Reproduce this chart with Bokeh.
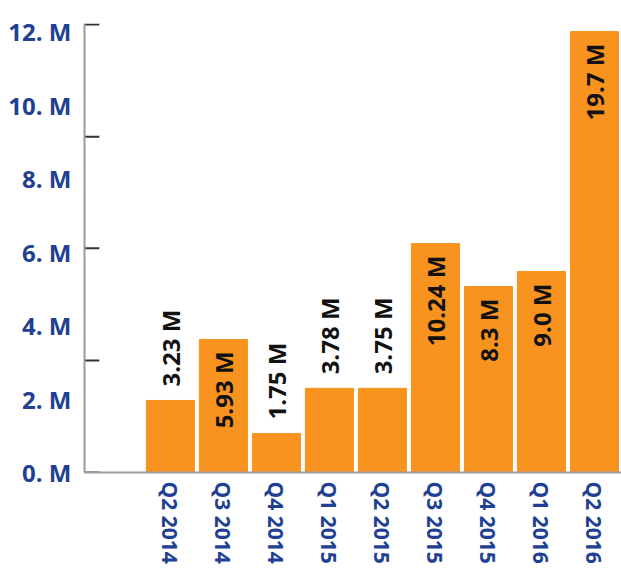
import math
from bokeh.plotting import figure
from bokeh.models import Range1d, FixedTicker, ColumnDataSource
from bokeh.core.properties import value
from bokeh.embed import file_html
from bokeh.resources import INLINE

# ---- data ----
quarters = ["Q2 2014", "Q3 2014", "Q4 2014", "Q1 2015", "Q2 2015",
            "Q3 2015", "Q4 2015", "Q1 2016", "Q2 2016"]
bar_heights = [1.96, 3.62, 1.06, 2.29, 2.29, 6.23, 5.06, 5.47, 12.0]
bar_labels = ["3.23 M", "5.93 M", "1.75 M", "3.78 M", "3.75 M",
              "10.24 M", "8.3 M", "9.0 M", "19.7 M"]
y_label_values = [0, 2, 4, 6, 8, 10, 12]
y_mark_values = [0, 3.05, 6.1, 9.14, 12.19]

ORANGE = "#F7931E"
BLUE = "#213F93"
FONT = value("Open Sans")

xs = list(range(len(quarters)))
x_start, x_end = -1.62, 8.51
y_end = 12.22

p = figure(width=621, height=570,
           x_range=Range1d(x_start, x_end), y_range=Range1d(0, y_end),
           output_backend="svg", toolbar_location=None,
           min_border_left=84, min_border_right=0,
           min_border_top=23, min_border_bottom=98)
p.outline_line_color = None
p.xgrid.grid_line_color = None
p.ygrid.grid_line_color = None
p.background_fill_color = "white"

p.vbar(x=xs, top=bar_heights, width=0.906, color=ORANGE)

# inside / outside label split
inside = [i for i, v in enumerate(bar_heights) if v > 3]
outside = [i for i, v in enumerate(bar_heights) if v <= 3]
src_in = ColumnDataSource(dict(x=[xs[i] for i in inside],
                               y=[bar_heights[i] for i in inside],
                               t=[bar_labels[i] for i in inside]))
src_out = ColumnDataSource(dict(x=[xs[i] for i in outside],
                                y=[bar_heights[i] for i in outside],
                                t=[bar_labels[i] for i in outside]))
common = dict(angle=math.pi / 2, text_baseline="middle", text_font=FONT,
              text_font_style="bold", text_font_size="24px", text_color="#111111")
p.text(x="x", y="y", text="t", source=src_out, text_align="left",
       y_offset=-14, **common)
p.text(x="x", y="y", text="t", source=src_in, text_align="right",
       y_offset=12, **common)

# tick marks on the y axis (inward)
p.segment(x0=[x_start] * len(y_mark_values), x1=[x_start + 0.28] * len(y_mark_values),
          y0=y_mark_values, y1=y_mark_values, line_color="#333333", line_width=2)

# y axis
ya = p.yaxis[0]
ya.ticker = FixedTicker(ticks=y_label_values)
ya.major_label_overrides = {v: f"{v}. M" for v in y_label_values}
ya.major_tick_line_color = None
ya.minor_tick_line_color = None
ya.major_tick_out = 0
ya.major_tick_in = 0
ya.major_label_standoff = 13
ya.axis_line_color = "#9A9A9E"
ya.axis_line_width = 2
ya.major_label_text_font = "Open Sans"
ya.major_label_text_font_style = "bold"
ya.major_label_text_font_size = "24px"
ya.major_label_text_color = BLUE

# x axis
xa = p.xaxis[0]
xa.ticker = FixedTicker(ticks=xs)
xa.major_label_overrides = {i: q for i, q in enumerate(quarters)}
xa.major_label_orientation = "vertical"
xa.major_tick_line_color = None
xa.minor_tick_line_color = None
xa.major_tick_out = 0
xa.major_tick_in = 0
xa.major_label_standoff = 9
xa.axis_line_color = "#9A9A9E"
xa.axis_line_width = 2
xa.major_label_text_font = "Open Sans"
xa.major_label_text_font_style = "bold"
xa.major_label_text_font_size = "21px"
xa.major_label_text_color = BLUE

open("out.html", "w").write(file_html(p, INLINE))
